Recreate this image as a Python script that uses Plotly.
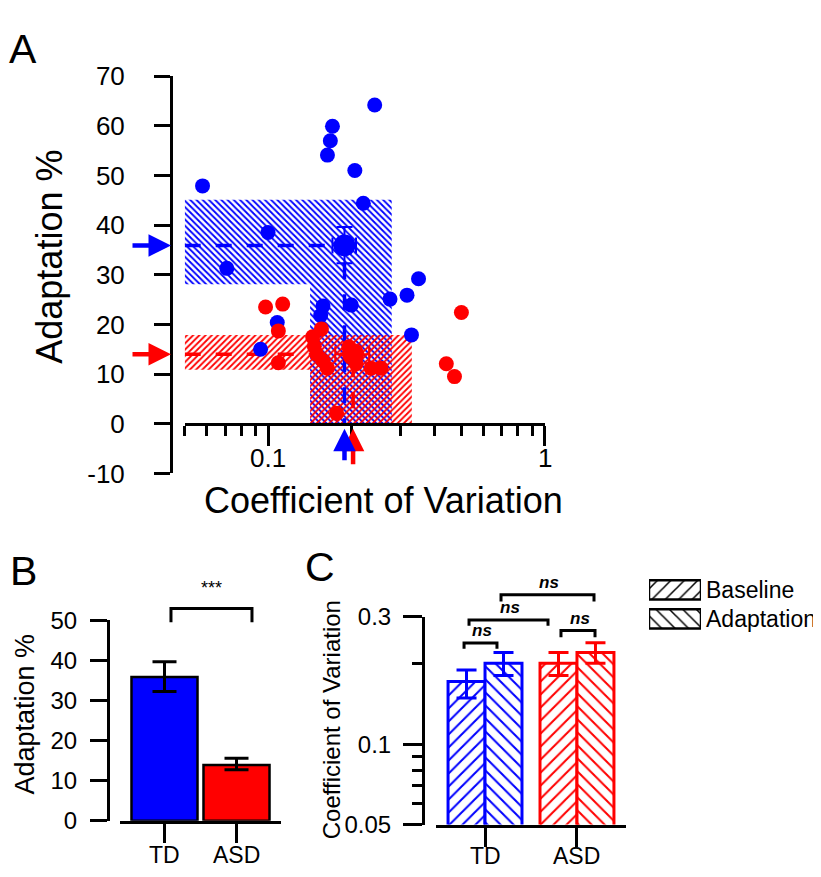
import numpy as np
import plotly.graph_objects as go

W, H = 821, 877
BLUE = '#0000ff'
RED = '#ff0000'
FONT = 'Liberation Sans, Arial, Helvetica, sans-serif'

# ---------------- data ----------------
groups = ['TD', 'ASD']
group_colors = [BLUE, RED]

# Panel A: individual subjects (coefficient of variation, adaptation %)
td_cv = [0.243, 0.171, 0.168, 0.164, 0.206, 0.221, 0.058, 0.100, 0.071, 0.350,
         0.318, 0.276, 0.200, 0.158, 0.155, 0.330, 0.108, 0.094]
td_adapt = [64.2, 59.9, 57.0, 54.1, 51.0, 44.4, 47.9, 38.5, 31.3, 29.2,
            25.9, 25.1, 23.9, 23.7, 21.8, 17.9, 20.4, 15.0]
asd_cv = [0.098, 0.113, 0.109, 0.109, 0.156, 0.145, 0.147, 0.150, 0.158, 0.164,
          0.208, 0.236, 0.256, 0.177, 0.500, 0.441, 0.472, 0.196]
asd_adapt = [23.5, 24.1, 18.7, 12.3, 19.1, 17.5, 15.6, 14.0, 12.7, 11.2,
             12.1, 11.2, 11.2, 2.1, 22.4, 12.1, 9.5, 15.5]

# Panel A: group summaries
mean_cv = [0.189, 0.203]
mean_cv_lo = [0.171, 0.175]
mean_cv_hi = [0.208, 0.232]
mean_adapt = [35.9, 14.0]
mean_adapt_lo = [32.3, 12.6]
mean_adapt_hi = [39.6, 15.6]
band_cv_lo = [0.142, 0.142]
band_cv_hi = [0.280, 0.331]
band_adapt_lo = [28.1, 10.9]
band_adapt_hi = [45.1, 17.9]
band_patterns = ['\\', '/']

# Panel B
b_adapt = [35.8, 13.9]
b_adapt_hi = [39.6, 15.6]
b_adapt_lo = [32.2, 12.7]

# Panel C
conditions = ['Baseline', 'Adaptation']
cond_patterns = ['/', '\\']
c_base = [0.172, 0.201]
c_base_hi = [0.190, 0.221]
c_base_lo = [0.149, 0.181]
c_adapt = [0.201, 0.221]
c_adapt_hi = [0.221, 0.240]
c_adapt_lo = [0.181, 0.201]

# significance brackets (x in category units, y in data units)
b_bracket = dict(x0=0.09, x1=1.215, ytop=52.9, yend=49.5, label='***')
c_brackets_x0 = [-0.228, -0.174, 0.826, 0.174]
c_brackets_x1 = [0.130, 0.685, 1.196, 1.185]
c_brackets_top = [0.2395, 0.2924, 0.2669, 0.3633]
c_brackets_end = [0.2279, 0.2782, 0.2519, 0.3428]

# axis ranges and ticks
A_X_RANGE = [0.05, 1.0]
A_Y_RANGE = [-10, 70]
A_Y_TICKS = list(range(-10, 71, 10))
A_X_MAJOR = [0.1, 1]
A_X_MINOR = [0.05, 0.06, 0.07, 0.08, 0.09, 0.2, 0.3, 0.4, 0.5, 0.6, 0.7, 0.8, 0.9]
B_Y_RANGE = [0, 50]
C_Y_RANGE = [0.05, 0.3]
C_Y_MAJOR = [0.05, 0.1, 0.3]
C_Y_MINOR = [0.06, 0.07, 0.08, 0.09, 0.2]

# ---------------- geometry (pixels) ----------------
def fx(px):
    return px / W


def fy(py):
    return 1 - py / H


A_X_DOM = [fx(176.7), fx(536.7)]
A_Y_DOM = [fy(466.4), fy(55.0)]
A_YAX_POS = fx(163)
A_XLABEL_Y = fy(450)
B_X_DOM = [fx(112), fx(273)]
B_Y_DOM = [fy(826), fy(618.3)]
B_YAX_POS = fx(100)
B_XLABEL_Y = fy(861)
C_X_DOM = [fx(428), fx(618)]
C_Y_DOM = [fy(830), fy(615)]
C_YAX_POS = fx(415)
C_XLABEL_Y = fy(863)
L_X_DOM = [fx(641), fx(693)]
L_Y_DOM = [fy(632), fy(572)]


def lin_to_paper(v, rng, dom):
    return dom[0] + (v - rng[0]) / (rng[1] - rng[0]) * (dom[1] - dom[0])


def log_to_paper(v, rng, dom):
    a, b = np.log10(rng[0]), np.log10(rng[1])
    return dom[0] + (np.log10(v) - a) / (b - a) * (dom[1] - dom[0])


fig = go.Figure()

# ---------------- Panel A ----------------
for i in range(2):
    xs = [A_X_RANGE[0], band_cv_hi[i], band_cv_hi[i], band_cv_lo[i], band_cv_lo[i], A_X_RANGE[0], A_X_RANGE[0]]
    ys = [band_adapt_hi[i], band_adapt_hi[i], 0, 0, band_adapt_lo[i], band_adapt_lo[i], band_adapt_hi[i]]
    fig.add_trace(go.Scatter(
        x=xs, y=ys, mode='none', fill='toself', fillcolor='rgba(0,0,0,0)',
        fillpattern=dict(shape=band_patterns[i], fgcolor=group_colors[i], fgopacity=1,
                         bgcolor='rgba(0,0,0,0)', size=4.4, solidity=0.42),
        xaxis='x', yaxis='y', hoverinfo='skip'))

for i in range(2):
    c = group_colors[i]
    fig.add_trace(go.Scatter(
        x=[A_X_RANGE[0], mean_cv[i]], y=[mean_adapt[i], mean_adapt[i]], mode='lines',
        line=dict(color=c, width=3.5, dash='16px,15px'), xaxis='x', yaxis='y', hoverinfo='skip'))
    fig.add_trace(go.Scatter(
        x=[mean_cv[i], mean_cv[i]], y=[mean_adapt_lo[i], 0], mode='lines',
        line=dict(color=c, width=3.5, dash='16px,15px'), xaxis='x', yaxis='y', hoverinfo='skip'))

fig.add_trace(go.Scatter(x=td_cv, y=td_adapt, mode='markers',
                         marker=dict(size=15, color=BLUE), cliponaxis=False,
                         xaxis='x', yaxis='y'))
fig.add_trace(go.Scatter(x=asd_cv, y=asd_adapt, mode='markers',
                         marker=dict(size=15, color=RED), cliponaxis=False,
                         xaxis='x', yaxis='y'))

for i in range(2):
    c = group_colors[i]
    fig.add_trace(go.Scatter(
        x=[mean_cv[i]], y=[mean_adapt[i]], mode='markers',
        marker=dict(size=22, color=c),
        error_y=dict(type='data', symmetric=False,
                     array=[mean_adapt_hi[i] - mean_adapt[i]],
                     arrayminus=[mean_adapt[i] - mean_adapt_lo[i]],
                     color=c, thickness=2, width=8),
        error_x=dict(type='data', symmetric=False,
                     array=[mean_cv_hi[i] - mean_cv[i]],
                     arrayminus=[mean_cv[i] - mean_cv_lo[i]],
                     color=c, thickness=2, width=8),
        cliponaxis=False, xaxis='x', yaxis='y'))

# ---------------- Panel B ----------------
fig.add_trace(go.Bar(
    x=[0, 1], y=b_adapt, width=0.917,
    marker=dict(color=group_colors, line=dict(color='black', width=2.5)),
    error_y=dict(type='data', symmetric=False,
                 array=[h - m for h, m in zip(b_adapt_hi, b_adapt)],
                 arrayminus=[m - l for l, m in zip(b_adapt_lo, b_adapt)],
                 color='black', thickness=3, width=12),
    xaxis='x2', yaxis='y2'))

# ---------------- Panel C ----------------
c_sets = [(c_base, c_base_hi, c_base_lo, -0.402, cond_patterns[0]),
          (c_adapt, c_adapt_hi, c_adapt_lo, 0.0, cond_patterns[1])]
for vals, his, los, off, pat in c_sets:
    for g in range(2):
        col = group_colors[g]
        fig.add_trace(go.Bar(
            x=[g], y=[vals[g]], width=0.402, offset=off,
            marker=dict(color='white', line=dict(color=col, width=3),
                        pattern=dict(shape=pat, fgcolor=col, fgopacity=1, bgcolor='white',
                                     size=9.2, solidity=0.22)),
            error_y=dict(type='data', symmetric=False,
                         array=[his[g] - vals[g]], arrayminus=[vals[g] - los[g]],
                         color=col, thickness=3, width=10),
            xaxis='x3', yaxis='y3'))

# legend swatches (panel C)
fig.add_trace(go.Bar(
    x=[1, 1], y=[0, 1], base=0, orientation='h', width=0.667,
    marker=dict(color='white', line=dict(color='black', width=2.5),
                pattern=dict(shape=cond_patterns, fgcolor='black', fgopacity=1,
                             bgcolor='white', size=9.5, solidity=0.16)),
    cliponaxis=False, xaxis='x4', yaxis='y4'))

# ---------------- axes ----------------
def axis_common(size):
    return dict(showgrid=False, zeroline=False, showline=True, linecolor='black',
                linewidth=3, ticks='outside', tickcolor='black', tickwidth=3,
                tickfont=dict(family=FONT, color='black', size=size))


a_xpos = lin_to_paper(0, A_Y_RANGE, A_Y_DOM)

fig.update_layout(
    xaxis=dict(**axis_common(26), type='log', domain=A_X_DOM,
               range=[np.log10(A_X_RANGE[0]), np.log10(A_X_RANGE[1])],
               anchor='free', position=a_xpos, tickmode='array',
               tickvals=A_X_MAJOR, showticklabels=False, ticklen=20,
               minor=dict(tickmode='array', tickvals=A_X_MINOR, ticklen=10,
                          tickwidth=3, tickcolor='black', ticks='outside', showgrid=False)),
    yaxis=dict(**axis_common(26), domain=A_Y_DOM, range=A_Y_RANGE, anchor='free',
               position=A_YAX_POS, tickmode='array',
               tickvals=A_Y_TICKS, ticktext=[str(v) for v in A_Y_TICKS],
               ticklen=16, ticklabelstandoff=24),
    xaxis2=dict(**axis_common(23), domain=B_X_DOM, range=[-0.618, 1.618], anchor='y2',
                tickmode='array', tickvals=[0, 1], showticklabels=False, ticklen=19),
    yaxis2=dict(**axis_common(24), domain=B_Y_DOM, range=B_Y_RANGE, anchor='free',
                position=B_YAX_POS, tickmode='array', tickvals=list(range(0, 51, 10)),
                ticklen=17, ticklabelstandoff=8),
    xaxis3=dict(**axis_common(23), domain=C_X_DOM, range=[-0.533, 1.533], anchor='y3',
                tickmode='array', tickvals=[0, 1], showticklabels=False, ticklen=19),
    yaxis3=dict(**axis_common(24), type='log', domain=C_Y_DOM,
                range=[np.log10(C_Y_RANGE[0]), np.log10(C_Y_RANGE[1])],
                anchor='free', position=C_YAX_POS, tickmode='array',
                tickvals=C_Y_MAJOR, ticktext=[str(v) for v in C_Y_MAJOR],
                ticklen=19, ticklabelstandoff=7,
                minor=dict(tickmode='array', tickvals=C_Y_MINOR,
                           ticklen=10, tickwidth=3, tickcolor='black', ticks='outside',
                           showgrid=False)),
    xaxis4=dict(domain=L_X_DOM, range=[0, 1], anchor='y4', visible=False),
    yaxis4=dict(domain=L_Y_DOM, range=[1.5, -0.5], anchor='x4', visible=False),
)

# ---------------- annotations ----------------
ann = []


def text_px(t, x, y, size, angle=0, xanchor='center'):
    ann.append(dict(text=t, x=fx(x), y=fy(y), xref='paper', yref='paper',
                    showarrow=False, xanchor=xanchor, yanchor='middle', textangle=angle,
                    font=dict(family=FONT, size=size, color='black')))


text_px('A', 15, 27, 41)
text_px('B', 15, 567, 41)
text_px('C', 312, 563, 41)
text_px('Adaptation %', 42, 242, 36, angle=-90)
text_px('Coefficient of Variation', 375, 494, 36)
text_px('Adaptation %', 17, 716, 27, angle=-90)
text_px('Coefficient of Variation', 323, 722, 24, angle=-90)
text_px('Baseline', 696, 587, 23, xanchor='left')
text_px('Adaptation', 696, 617, 23, xanchor='left')

# x tick labels placed as text at their data positions
for v in A_X_MAJOR:
    ann.append(dict(text=str(v), x=np.log10(v), xref='x', y=A_XLABEL_Y, yref='paper',
                    showarrow=False, yanchor='middle',
                    font=dict(family=FONT, size=26, color='black')))
for g, name in enumerate(groups):
    for xr, yy in [('x2', B_XLABEL_Y), ('x3', C_XLABEL_Y)]:
        ann.append(dict(text=name, x=g, xref=xr, y=yy, yref='paper',
                        showarrow=False, yanchor='middle',
                        font=dict(family=FONT, size=23, color='black')))

# arrows marking group means on the axes (red first, blue on top)
for i in [1, 0]:
    c = group_colors[i]
    ann.append(dict(text='', x=A_YAX_POS, xref='paper', y=mean_adapt[i], yref='y',
                    ax=-40, ay=0, showarrow=True, arrowhead=2, arrowsize=1,
                    arrowwidth=4.5, arrowcolor=c))
    ann.append(dict(text='', x=np.log10(mean_cv[i]), xref='x', y=-1, yref='y',
                    ax=0, ay=33 + 4 * i, showarrow=True, arrowhead=2, arrowsize=1,
                    arrowwidth=4.5, arrowcolor=c))

# significance brackets
shapes = []
by0 = lin_to_paper(b_bracket['yend'], B_Y_RANGE, B_Y_DOM)
by1 = lin_to_paper(b_bracket['ytop'], B_Y_RANGE, B_Y_DOM)
shapes.append(dict(type='path', xref='x2', yref='paper',
                   path=f"M{b_bracket['x0']},{by0} L{b_bracket['x0']},{by1} "
                        f"L{b_bracket['x1']},{by1} L{b_bracket['x1']},{by0}",
                   line=dict(color='black', width=3)))
ann.append(dict(text=b_bracket['label'], x=(b_bracket['x0'] + b_bracket['x1']) / 2,
                xref='x2', y=by1, yref='paper', yanchor='bottom', yshift=9,
                showarrow=False, font=dict(family=FONT, size=18, color='black')))

for x0, x1, yt, ye in zip(c_brackets_x0, c_brackets_x1, c_brackets_top, c_brackets_end):
    p0 = log_to_paper(ye, C_Y_RANGE, C_Y_DOM)
    p1 = log_to_paper(yt, C_Y_RANGE, C_Y_DOM)
    shapes.append(dict(type='path', xref='x3', yref='paper',
                       path=f"M{x0},{p0} L{x0},{p1} L{x1},{p1} L{x1},{p0}",
                       line=dict(color='black', width=3)))
    ann.append(dict(text='<b><i>ns</i></b>', x=(x0 + x1) / 2 + 0.02, xref='x3', y=p1,
                    yref='paper', yanchor='bottom', yshift=1, showarrow=False,
                    font=dict(family=FONT, size=17, color='black')))

fig.update_layout(
    width=W, height=H, margin=dict(l=0, r=0, t=0, b=0),
    paper_bgcolor='white', plot_bgcolor='white', showlegend=False,
    barmode='overlay', font=dict(family=FONT, color='black'),
    annotations=ann, shapes=shapes,
)

fig.write_html('out.html')
